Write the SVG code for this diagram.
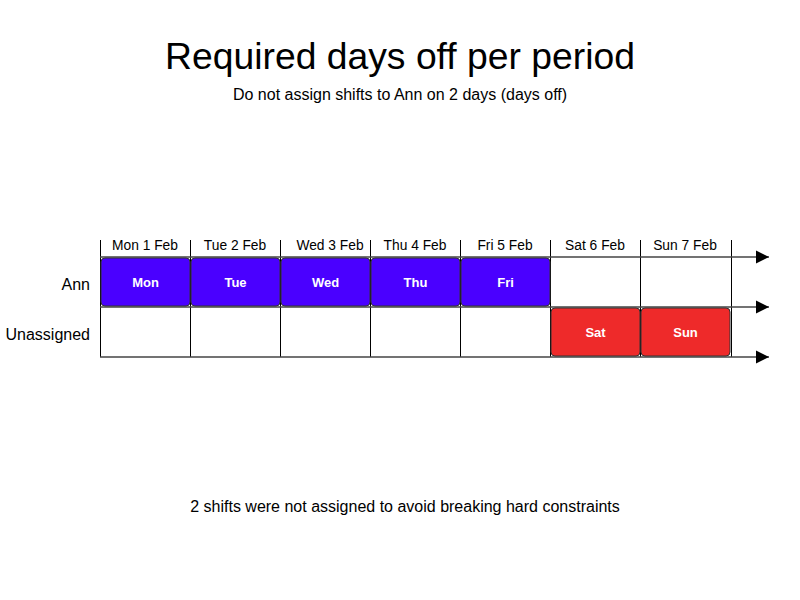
<svg xmlns="http://www.w3.org/2000/svg" width="800" height="600" viewBox="0 0 800 600">
<style>
text{font-family:"Liberation Sans",Arial,sans-serif;fill:#000}
.title{font-size:37.3px;text-anchor:middle}
.sub{font-size:16px;text-anchor:middle}
.date{font-size:13.8px;text-anchor:middle}
.row{font-size:16px;text-anchor:end}
.lbl{font-size:13px;font-weight:bold;text-anchor:middle;fill:#fff}
.vl{stroke:#000;stroke-width:1}
.hl{stroke:#444;stroke-width:1.5}
.ann{fill:#4a00ff;stroke:#333;stroke-width:1}
.un{fill:#ee2a2a;stroke:#333;stroke-width:1}
</style>
<defs>
<marker id="arr" viewBox="0 0 10 10" refX="10" refY="5" markerWidth="13" markerHeight="14" markerUnits="userSpaceOnUse" orient="auto">
<path d="M0,0 L10,5 L0,10 z" fill="#000"/>
</marker>
</defs>
<rect width="800" height="600" fill="#fff"/>
<text class="title" x="400" y="69">Required days off per period</text>
<text class="sub" x="400" y="100">Do not assign shifts to Ann on 2 days (days off)</text>
<g id="dates">
<text class="date" x="145" y="250">Mon 1 Feb</text>
<text class="date" x="235" y="250">Tue 2 Feb</text>
<text class="date" x="330" y="250">Wed 3 Feb</text>
<text class="date" x="415" y="250">Thu 4 Feb</text>
<text class="date" x="505" y="250">Fri 5 Feb</text>
<text class="date" x="595" y="250">Sat 6 Feb</text>
<text class="date" x="685" y="250">Sun 7 Feb</text>
</g>
<g id="rows">
<text class="row" x="90" y="290">Ann</text>
<text class="row" x="90" y="340">Unassigned</text>
</g>
<g id="grid">
<line class="vl" x1="100.5" y1="240" x2="100.5" y2="357"/>
<line class="vl" x1="190.5" y1="240" x2="190.5" y2="357"/>
<line class="vl" x1="280.5" y1="240" x2="280.5" y2="357"/>
<line class="vl" x1="370.5" y1="240" x2="370.5" y2="357"/>
<line class="vl" x1="460.5" y1="240" x2="460.5" y2="357"/>
<line class="vl" x1="550.5" y1="240" x2="550.5" y2="357"/>
<line class="vl" x1="640.5" y1="240" x2="640.5" y2="357"/>
<line class="vl" x1="731.5" y1="240" x2="731.5" y2="357"/>
</g>
<g id="connectors">
<line class="hl" x1="100" y1="257" x2="769" y2="257" marker-end="url(#arr)"/>
<line class="hl" x1="100" y1="307" x2="769" y2="307" marker-end="url(#arr)"/>
<line class="hl" x1="100" y1="357" x2="769" y2="357" marker-end="url(#arr)"/>
</g>
<g id="shift-mon"><rect class="ann" x="101" y="258" width="89" height="48" rx="4"/><text class="lbl" x="145.5" y="287">Mon</text></g>
<g id="shift-tue"><rect class="ann" x="191" y="258" width="89" height="48" rx="4"/><text class="lbl" x="235.5" y="287">Tue</text></g>
<g id="shift-wed"><rect class="ann" x="281" y="258" width="89" height="48" rx="4"/><text class="lbl" x="325.5" y="287">Wed</text></g>
<g id="shift-thu"><rect class="ann" x="371" y="258" width="89" height="48" rx="4"/><text class="lbl" x="415.5" y="287">Thu</text></g>
<g id="shift-fri"><rect class="ann" x="461" y="258" width="89" height="48" rx="4"/><text class="lbl" x="505.5" y="287">Fri</text></g>
<g id="shift-sat"><rect class="un" x="551" y="308" width="89" height="48" rx="4"/><text class="lbl" x="595.5" y="337">Sat</text></g>
<g id="shift-sun"><rect class="un" x="641" y="308" width="89" height="48" rx="4"/><text class="lbl" x="685.5" y="337">Sun</text></g>
<text class="sub" x="405" y="512">2 shifts were not assigned to avoid breaking hard constraints</text>
</svg>
